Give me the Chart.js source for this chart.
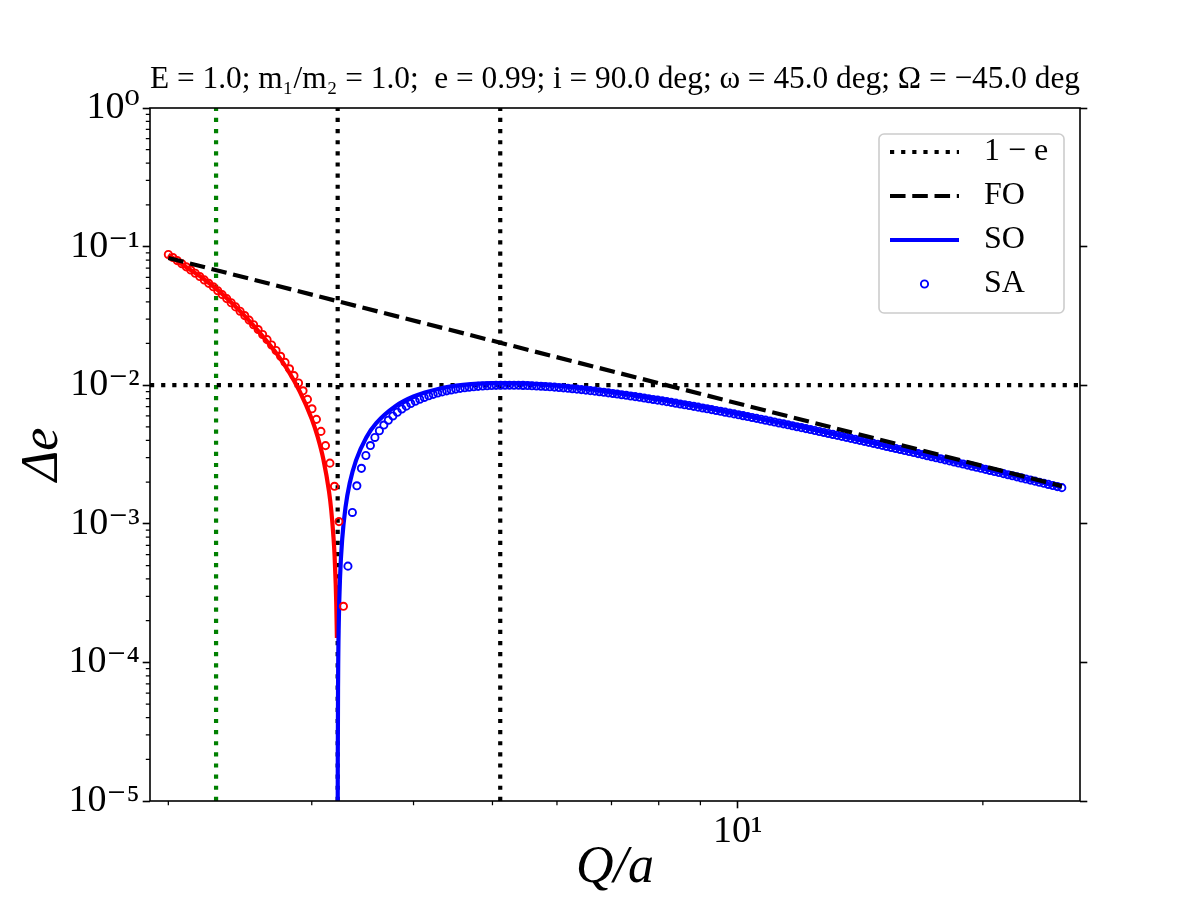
<!DOCTYPE html>
<html>
<head>
<meta charset="utf-8">
<script src="https://cdn.jsdelivr.net/npm/chart.js@4.4.1/dist/chart.umd.min.js"></script>
<style>
  body { margin: 0; background: #fff; }
  #wrap { width: 1200px; height: 900px; }
</style>
</head>
<body>
<div id="wrap"><canvas id="Delta-E" width="1200" height="900"></canvas></div>
<script>
// axis ranges
const qMin = 1.899, qMax = 26.32;
const deMin = 1e-5, deMax = 1;

// tick values and labels
const xMajor = [10];
const xLabels = ['10¹'];
const xMinor = [2, 3, 4, 5, 6, 7, 8, 9, 20];
const yMajor = [1e-5, 1e-4, 1e-3, 1e-2, 1e-1, 1];
const yLabels = ['10⁻⁵', '10⁻⁴', '10⁻³', '10⁻²', '10⁻¹', '10⁰'];
const yMinorSteps = [2, 3, 4, 5, 6, 7, 8, 9];

// reference lines
const oneMinusE = 0.01;
const qGreen = 2.289;
const qBlack = [3.228, 5.111];

// first order
const foQ = [2, 25];
const foDe = [0.0828, 0.00187];

// second order, negative branch (red)
const soNegQ = [2.00, 2.10, 2.20, 2.30, 2.40, 2.50, 2.60, 2.70, 2.80, 2.90, 3.00, 3.05, 3.10, 3.15, 3.17, 3.19, 3.20, 3.21, 3.215, 3.221];
const soNegDe = [0.0872, 0.0715, 0.0596, 0.0485, 0.0385, 0.0302, 0.0233, 0.0177, 0.0130, 0.0090, 0.0057, 0.00425, 0.00292, 0.00171, 0.00125, 0.00080, 0.00059, 0.00037, 0.00027, 0.00015];

// second order, positive branch (blue)
const soPosQ = [3.2282, 3.229, 3.232, 3.238, 3.25, 3.27, 3.30, 3.34, 3.40, 3.50, 3.60, 3.80, 4.00, 4.30, 4.60, 5.00, 5.50, 6.00, 7.00, 8.00, 9.00, 10.0, 12.0, 14.0, 16.0, 18.0, 20.0, 22.5, 25.0];
const soPosDe = [0.0000039, 0.0000193, 0.0000769, 0.000191, 0.000416, 0.000782, 0.00131, 0.00197, 0.00287, 0.00420, 0.00532, 0.00705, 0.00828, 0.00943, 0.01005, 0.01036, 0.01027, 0.00991, 0.00892, 0.00791, 0.00700, 0.00621, 0.00498, 0.00408, 0.00342, 0.00291, 0.00252, 0.00213, 0.00184];

// semi-analytic points, negative branch (red)
const saNegQ = [
  2.000, 2.026, 2.051, 2.078, 2.104, 2.131, 2.158, 2.186, 2.214, 2.242,
  2.271, 2.300, 2.329, 2.359, 2.389, 2.419, 2.450, 2.482, 2.513, 2.545,
  2.578, 2.611, 2.644, 2.678, 2.712, 2.747, 2.782, 2.817, 2.853, 2.890,
  2.927, 2.964, 3.002, 3.040, 3.079, 3.119, 3.158, 3.199, 3.240, 3.281
];
const saNegDe = [
  0.08769, 0.08340, 0.07927, 0.07529, 0.07146, 0.06776, 0.06421, 0.06079, 0.05749, 0.05432,
  0.05126, 0.04808, 0.04504, 0.04214, 0.03936, 0.03672, 0.03419, 0.03179, 0.02949, 0.02730,
  0.02521, 0.02322, 0.02132, 0.01952, 0.01780, 0.01616, 0.01461, 0.01313, 0.01172, 0.01038,
  0.009109, 0.007903, 0.006757, 0.005671, 0.004641, 0.003665, 0.002740, 0.001865, 0.001037, 0.000254
];

// semi-analytic points, positive branch (blue)
const saPosQ = [
  3.323, 3.365, 3.408, 3.452, 3.496, 3.541, 3.586, 3.632, 3.678, 3.725,
  3.773, 3.821, 3.870, 3.919, 3.969, 4.020, 4.071, 4.123, 4.176, 4.229,
  4.283, 4.338, 4.393, 4.449, 4.506, 4.564, 4.622, 4.681, 4.741, 4.801,
  4.863, 4.925, 4.988, 5.051, 5.116, 5.181, 5.247, 5.314, 5.382, 5.451,
  5.521, 5.591, 5.663, 5.735, 5.808, 5.882, 5.958, 6.034, 6.111, 6.189,
  6.268, 6.348, 6.429, 6.511, 6.594, 6.678, 6.764, 6.850, 6.938, 7.026,
  7.114, 7.205, 7.297, 7.390, 7.484, 7.580, 7.677, 7.775, 7.874, 7.975,
  8.079, 8.182, 8.287, 8.393, 8.500, 8.608, 8.718, 8.830, 8.942, 9.057,
  9.172, 9.289, 9.408, 9.528, 9.650, 9.773, 9.898, 10.024, 10.153, 10.282,
  10.414, 10.547, 10.681, 10.818, 10.956, 11.096, 11.238, 11.381, 11.526, 11.674,
  11.823, 11.974, 12.127, 12.282, 12.438, 12.597, 12.758, 12.921, 13.086, 13.253,
  13.423, 13.594, 13.768, 13.944, 14.122, 14.302, 14.485, 14.670, 14.857, 15.047,
  15.239, 15.434, 15.631, 15.831, 16.033, 16.238, 16.445, 16.655, 16.868, 17.083,
  17.301, 17.522, 17.746, 17.973, 18.202, 18.435, 18.670, 18.909, 19.150, 19.395,
  19.643, 19.894, 20.148, 20.405, 20.666, 20.930, 21.197, 21.468, 21.742, 22.020,
  22.301, 22.586, 22.874, 23.166, 23.462, 23.762, 24.066, 24.373, 24.684, 25.000
];
const saPosDe = [
  0.000495, 0.001208, 0.001880, 0.002513, 0.003109, 0.003670, 0.004198, 0.004693, 0.005157, 0.005592,
  0.005999, 0.006379, 0.006733, 0.007063, 0.007370, 0.007654, 0.007918, 0.008161, 0.008385, 0.008590,
  0.008778, 0.008950, 0.009105, 0.009246, 0.009372, 0.009485, 0.009584, 0.009672, 0.009748, 0.009812,
  0.009866, 0.009911, 0.009945, 0.009971, 0.009989, 0.009998, 0.010000, 0.009994, 0.009982, 0.009964,
  0.009939, 0.009909, 0.009874, 0.009834, 0.009789, 0.009739, 0.009686, 0.009628, 0.009567, 0.009503,
  0.009435, 0.009365, 0.009292, 0.009216, 0.009138, 0.009058, 0.008976, 0.008893, 0.008807, 0.008721,
  0.008632, 0.008543, 0.008453, 0.008361, 0.008269, 0.008176, 0.008083, 0.007989, 0.007895, 0.007800,
  0.007705, 0.007610, 0.007515, 0.007420, 0.007324, 0.007229, 0.007135, 0.007040, 0.006946, 0.006852,
  0.006758, 0.006665, 0.006572, 0.006480, 0.006389, 0.006298, 0.006207, 0.006118, 0.006028, 0.005940,
  0.005852, 0.005765, 0.005679, 0.005594, 0.005509, 0.005426, 0.005343, 0.005261, 0.005179, 0.005099,
  0.005019, 0.004941, 0.004863, 0.004786, 0.004710, 0.004635, 0.004561, 0.004488, 0.004415, 0.004344,
  0.004273, 0.004204, 0.004135, 0.004067, 0.004000, 0.003934, 0.003869, 0.003805, 0.003742, 0.003679,
  0.003617, 0.003557, 0.003497, 0.003438, 0.003380, 0.003322, 0.003266, 0.003210, 0.003155, 0.003101,
  0.003048, 0.002996, 0.002944, 0.002894, 0.002844, 0.002794, 0.002746, 0.002698, 0.002651, 0.002605,
  0.002559, 0.002515, 0.002471, 0.002427, 0.002385, 0.002343, 0.002301, 0.002261, 0.002221, 0.002181,
  0.002143, 0.002105, 0.002067, 0.002031, 0.001995, 0.001959, 0.001924, 0.001890, 0.001856, 0.001823
];

const serif = "'Liberation Serif', 'DejaVu Serif', serif";
const LW = 4.2;
const dotted = [LW, 1.65 * LW];
const dashed = [3.7 * LW, 1.6 * LW];

function pts(xs, ys) {
  return xs.map((x, i) => ({x: x, y: ys[i]}));
}

function lineSet(label, data, color, dash, order) {
  return {
    label: label, data: data, showLine: true, borderColor: color, borderWidth: LW,
    borderDash: dash, pointRadius: 0, fill: false, order: order
  };
}

function circleSet(label, data, color) {
  return {
    label: label, data: data, showLine: false, pointStyle: 'circle', pointRadius: 3.6,
    pointBorderWidth: 1.9, pointBorderColor: color, pointBackgroundColor: 'rgba(0,0,0,0)', order: 1
  };
}

const datasets = [
  lineSet('1 − e', [{x: qMin, y: oneMinusE}, {x: qMax, y: oneMinusE}], '#000', dotted, 3),
  lineSet('FO', pts(foQ, foDe), '#000', dashed, 0),
  Object.assign(lineSet('SO', pts(soPosQ, soPosDe), '#0000ff', [], 2), {cubicInterpolationMode: 'monotone'}),
  circleSet('SA', pts(saPosQ, saPosDe), '#0000ff'),
  Object.assign(lineSet('', pts(soNegQ, soNegDe), '#ff0000', [], 2), {cubicInterpolationMode: 'monotone'}),
  circleSet('', pts(saNegQ, saNegDe), '#ff0000'),
  lineSet('', [{x: qGreen, y: deMin}, {x: qGreen, y: deMax}], '#008000', dotted, 3),
  lineSet('', [{x: qBlack[0], y: deMin}, {x: qBlack[0], y: deMax}], '#000', dotted, 3),
  lineSet('', [{x: qBlack[1], y: deMin}, {x: qBlack[1], y: deMax}], '#000', dotted, 3)
];

// legend handles, drawn like the plotted marks
function makeHandle(ds) {
  const c = document.createElement('canvas');
  c.width = 78; c.height = 16;
  const g = c.getContext('2d');
  if (ds.showLine) {
    g.strokeStyle = ds.borderColor;
    g.lineWidth = ds.borderWidth;
    g.setLineDash(ds.borderDash);
    g.beginPath(); g.moveTo(0, 8); g.lineTo(69, 8); g.stroke();
  } else {
    g.strokeStyle = ds.pointBorderColor;
    g.lineWidth = ds.pointBorderWidth;
    g.beginPath(); g.arc(34.5, 8, ds.pointRadius, 0, Math.PI * 2); g.stroke();
  }
  return c;
}

function logTicks(values) {
  return (scale) => { scale.ticks = values.map(v => ({value: v})); };
}

const frame = {
  id: 'frame',
  afterLayout(chart) {
    const a = chart.chartArea, lg = chart.legend;
    const pad = lg.options.labels.padding;
    lg.left = a.right - 190 - pad;
    lg.top = a.top + 28 - pad;
    lg.right = a.right;
    lg.bottom = a.bottom;
  },
  beforeDraw(chart) {
    const a = chart.chartArea, lg = chart.legend, ctx = chart.ctx;
    const pad = lg.options.labels.padding;
    const x0 = lg.left + pad - 11, x1 = a.right - 16;
    const y0 = lg.top + pad - 2, y1 = y0 + 179;
    ctx.save();
    ctx.beginPath();
    ctx.roundRect(x0, y0, x1 - x0, y1 - y0, 5);
    ctx.fillStyle = 'rgba(255,255,255,0.8)';
    ctx.fill();
    ctx.strokeStyle = '#cccccc';
    ctx.lineWidth = 1.6;
    ctx.stroke();
    ctx.restore();
  },
  afterDraw(chart) {
    const a = chart.chartArea, ctx = chart.ctx;
    const xs = chart.scales.x, ys = chart.scales.y;
    ctx.save();
    ctx.strokeStyle = '#000';
    // minor ticks
    ctx.lineWidth = 1.25;
    ctx.beginPath();
    xMinor.forEach(v => {
      const px = xs.getPixelForValue(v);
      ctx.moveTo(px, a.bottom); ctx.lineTo(px, a.bottom + 4.2);
    });
    yMajor.slice(0, -1).forEach(d => {
      yMinorSteps.forEach(s => {
        const py = ys.getPixelForValue(d * s);
        ctx.moveTo(a.left, py); ctx.lineTo(a.left - 4.2, py);
      });
    });
    ctx.stroke();
    // spines
    ctx.lineWidth = 1.6;
    ctx.strokeRect(a.left, a.top, a.right - a.left, a.bottom - a.top);
    ctx.restore();
  }
};

const tickGrid = {drawOnChartArea: false, drawTicks: true, tickLength: 7.3, tickWidth: 1.6, tickColor: '#000'};

new Chart(document.getElementById('Delta-E'), {
  type: 'scatter',
  data: {datasets: datasets},
  options: {
    responsive: false,
    animation: false,
    events: [],
    layout: {padding: 0},
    scales: {
      x: {
        type: 'logarithmic', min: qMin, max: qMax,
        afterBuildTicks: logTicks(xMajor),
        ticks: {
          autoSkip: false, maxRotation: 0, padding: 1, color: '#000',
          font: {family: serif, size: 38},
          callback: (v) => xLabels[xMajor.indexOf(v)] || ''
        },
        grid: tickGrid,
        border: {display: false},
        title: {display: true, text: 'Q/a', color: '#000', font: {family: serif, size: 52, style: 'italic'}, padding: {top: 0, bottom: 0}},
        afterFit: (s) => { s.height = 99; }
      },
      y: {
        type: 'logarithmic', position: 'left', min: deMin, max: deMax,
        afterBuildTicks: logTicks(yMajor),
        ticks: {
          autoSkip: false, padding: 3, color: '#000',
          font: {family: serif, size: 38},
          callback: (v) => yLabels[yMajor.indexOf(v)] || ''
        },
        grid: tickGrid,
        border: {display: false},
        title: {display: true, text: 'Δe', color: '#000', font: {family: serif, size: 52, style: 'italic'}, padding: {top: 12, bottom: 0}},
        afterFit: (s) => { s.width = 150; }
      },
      y2: {
        type: 'logarithmic', position: 'right', min: deMin, max: deMax,
        afterBuildTicks: logTicks(yMajor),
        ticks: {display: false},
        grid: tickGrid,
        border: {display: false},
        afterFit: (s) => { s.width = 120; }
      }
    },
    plugins: {
      title: {
        display: true, fullSize: false, color: '#000',
        text: 'E = 1.0; m₁/m₂ = 1.0;  e = 0.99; i = 90.0 deg; ω = 45.0 deg; Ω = −45.0 deg',
        font: {family: serif, size: 32, weight: 'normal'},
        padding: {top: 60.8, bottom: 8.8}
      },
      legend: {
        position: 'chartArea',
        align: 'start',
        labels: {
          usePointStyle: true, pointStyleWidth: 78, boxHeight: 16, padding: 12,
          color: '#000', font: {family: serif, size: 32},
          generateLabels: (chart) => chart.data.datasets
            .map((ds, i) => ({ds: ds, i: i}))
            .filter(o => o.ds.label)
            .map(o => ({
              text: o.ds.label, datasetIndex: o.i, hidden: false, fontColor: '#000',
              pointStyle: makeHandle(o.ds), lineWidth: 0,
              strokeStyle: 'rgba(0,0,0,0)', fillStyle: 'rgba(0,0,0,0)'
            }))
        }
      },
      tooltip: {enabled: false}
    }
  },
  plugins: [frame]
});
</script>
</body>
</html>
